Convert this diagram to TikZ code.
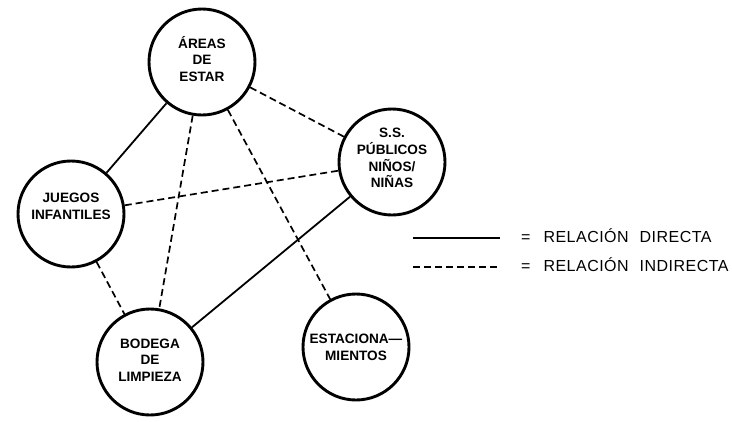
\documentclass[tikz,border=0pt]{standalone}
\usepackage{fontspec}
\setmainfont{Liberation Sans}
\usetikzlibrary{positioning}

\begin{document}
\begin{tikzpicture}[
  x=1pt, y=-1pt,
  font=\fontsize{13.6}{16.7}\selectfont\bfseries,
  zone/.style={draw, circle, line width=2.9pt, minimum size=106pt, inner sep=0pt, align=center},
  direct/.style={line width=1.8pt},
  indirect/.style={line width=1.7pt, dash pattern=on 7pt off 4pt},
  legtext/.style={anchor=base west, inner sep=0pt, font=\fontsize{16}{18}\selectfont\addfontfeature{LetterSpace=3}}
]
\useasboundingbox (0,0) rectangle (732,421);

% ---- zones ----
\node[zone] (areas) at (202,62)  {\\[-11pt]ÁREAS\\DE\\ESTAR};
\node[zone] (ss)    at (392,162) {S.S.\\PÚBLICOS\\NIÑOS/\\NIÑAS\\[-9pt]};
\node[zone] (juegos) at (71,214) {JUEGOS\\INFANTILES\\[-1pt]};
\node[zone] (bodega) at (150,362) {\\[-11pt]BODEGA\\DE\\LIMPIEZA};
\node[zone] (estac) at (356,347) {ESTACIONA---\\MIENTOS};

% ---- relaciones ----
\draw[direct] (areas) -- (juegos);
\draw[direct] (ss) -- (bodega);
\draw[indirect] (areas) -- (ss);
\draw[indirect] (areas) -- (bodega);
\draw[indirect] (areas) -- (estac);
\draw[indirect] (juegos) -- (ss);
\draw[indirect] (juegos) -- (bodega);

% ---- leyenda ----
\node[legtext] (leg1) at (521,242) {=\hspace{13pt}RELACIÓN\hspace{11pt}DIRECTA};
\node[legtext] (leg2) at (521,271) {=\hspace{13pt}RELACIÓN\hspace{11pt}INDIRECTA};
\coordinate (l1) at (413,238);
\coordinate (l2) at (413,267);
\draw[direct] (l1) -- ++(87,0);
\draw[indirect] (l2) -- ++(87,0);

\end{tikzpicture}
\end{document}
